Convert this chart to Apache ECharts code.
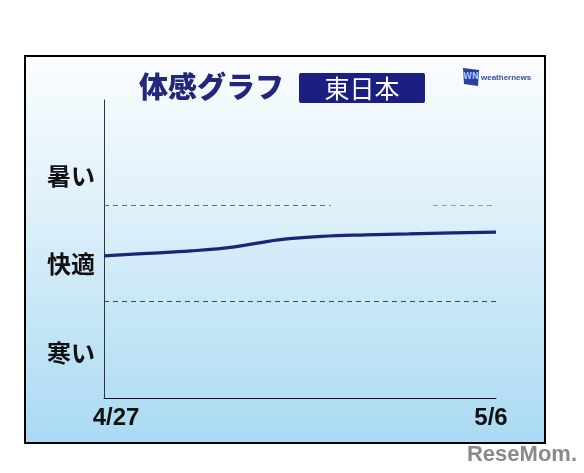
<!DOCTYPE html>
<html><head><meta charset="utf-8">
<script src="https://cdn.jsdelivr.net/npm/echarts@6/dist/echarts.min.js"></script>
<style>html,body{margin:0;padding:0;background:#fff}#c{width:584px;height:473px}</style>
</head><body><div id="c"></div>
<script>
const days = [0,1,2,3,4,5,6,7,8,9];
const feel = [1.472,1.497,1.523,1.565,1.637,1.673,1.689,1.699,1.709,1.717];
const xLabels = ['4/27','5/6'];
const yLabels = ['暑い','快適','寒い'];
const yLabelValues = [2.3,1.39,0.47];
const titleText = '体感グラフ';
const regionText = '東日本';

const chart = echarts.init(document.getElementById('c'), null, {renderer:'canvas'});
const navy = '#1e2378';
const option = {
  backgroundColor:'#ffffff',
  animation:false,
  grid:{left:104, right:88, top:100, bottom:75},
  xAxis:{type:'value', min:0, max:9, axisLine:{show:true,lineStyle:{color:'#111',width:1}},
    axisTick:{show:false}, axisLabel:{show:false}, splitLine:{show:false}},
  yAxis:{type:'value', min:0, max:3.085, axisLine:{show:true,onZero:false,lineStyle:{color:'#333',width:1}},
    axisTick:{show:false}, axisLabel:{show:false}, splitLine:{show:false}},
  series:[{
    type:'line', smooth:0.4, symbol:'none',
    data: days.map((d,i)=>[d,feel[i]]),
    lineStyle:{color:navy,width:3.2},
    markLine:{silent:true, symbol:'none', label:{show:false}, lineStyle:{type:[5,4],width:1,color:'#666'},
      data:[
        [{coord:[0,2],lineStyle:{color:'#666'}},{coord:[5.2,2]}],
        [{coord:[7.55,2],lineStyle:{color:'#999'}},{coord:[9,2]}],
        [{coord:[0,1],lineStyle:{color:'#444'}},{coord:[9,1]}]
      ]}
  }]
};
chart.setOption(option);

const g = [];
g.push({type:'rect', z:-10, silent:true, shape:{x:25,y:56,width:520,height:387},
  style:{fill:new echarts.graphic.LinearGradient(0,0,0,1,[{offset:0,color:'#fbfdfe'},{offset:0.35,color:'#e2f2fa'},{offset:1,color:'#a9daf2'}]),
  stroke:'#000', lineWidth:2}});
g.push({type:'text', z:5, style:{text:titleText, x:139, y:87, verticalAlign:'middle', font:'900 29px "Noto Sans CJK JP"', fill:'#23277c'}});
g.push({type:'rect', z:5, shape:{x:299,y:73,width:126,height:30,r:2}, style:{fill:'#1c1f82'}});
g.push({type:'text', z:6, style:{text:regionText, x:362, y:88, align:'center', verticalAlign:'middle', font:'25px "Noto Sans CJK JP"', fill:'#ffffff'}});
// logo
g.push({type:'polygon', z:5, shape:{points:[[463,68],[479,70],[478,86],[464,84]]}, style:{fill:'#2a3f9a'}});
g.push({type:'text', z:6, style:{text:'WN', x:471, y:77, align:'center', verticalAlign:'middle', font:'bold 8px "DejaVu Sans"', fill:'#9fc3ff'}});
g.push({type:'text', z:5, style:{text:'weathernews', x:481, y:78, verticalAlign:'middle', font:'bold 8px "Liberation Sans"', fill:'#3b4fa8'}});
// y labels
yLabels.forEach((t,i)=>{
  const py = chart.convertToPixel({gridIndex:0},[0,yLabelValues[i]])[1];
  g.push({type:'text', z:5, style:{text:t, x:71, y:py, align:'center', verticalAlign:'middle', font:'bold 24px "Noto Sans CJK JP"', fill:'#111'}});
});
// x labels
const p0 = chart.convertToPixel({gridIndex:0},[days[0],0]);
const p1 = chart.convertToPixel({gridIndex:0},[days[days.length-1],0]);
g.push({type:'text', z:5, style:{text:xLabels[0], x:p0[0]+12, y:p0[1]+20, align:'center', verticalAlign:'middle', font:'bold 24px "Liberation Sans"', fill:'#111'}});
g.push({type:'text', z:5, style:{text:xLabels[1], x:p1[0]-5, y:p1[1]+20, align:'center', verticalAlign:'middle', font:'bold 24px "Liberation Sans"', fill:'#111'}});
// watermark
g.push({type:'text', z:20, style:{text:'ReseMom.', x:522, y:455, align:'center', verticalAlign:'middle', font:'bold 22px "Liberation Sans"', fill:'#8a8a8a', stroke:'#ffffff', lineWidth:1}});
chart.setOption({graphic:g});
</script></body></html>
